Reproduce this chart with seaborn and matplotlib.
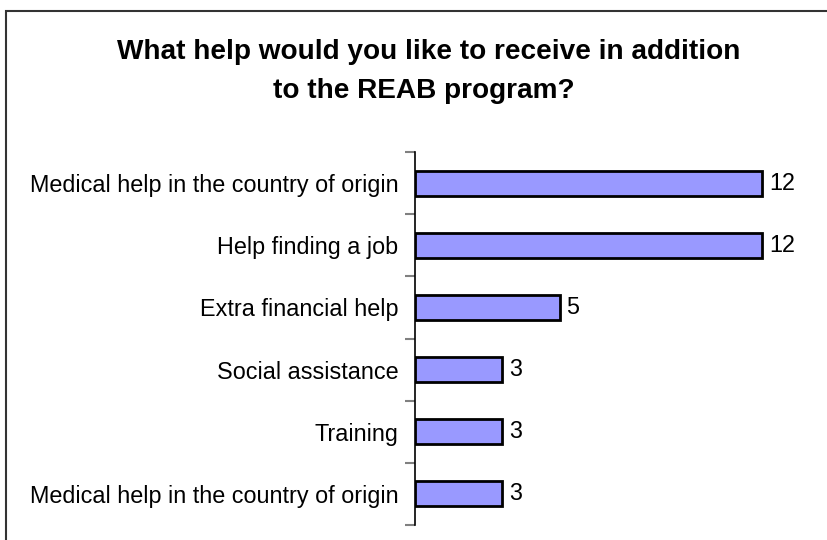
import matplotlib
matplotlib.use("Agg")
import matplotlib.pyplot as plt
import matplotlib.patches as mpatches
import seaborn as sns
import pandas as pd

categories = [
    "Medical help in the country of origin",
    "Help finding a job",
    "Extra financial help",
    "Social assistance",
    "Training",
    "Medical help in the country of origin",
]
counts = [12, 12, 5, 3, 3, 3]
title_lines = ["What help would you like to receive in addition",
               "to the REAB program?"]

sns.set_theme(style="white")
plt.rcParams["font.family"] = ["Liberation Sans", "DejaVu Sans"]

W, H = 828, 540
fig = plt.figure(figsize=(W / 100, H / 100), dpi=100)
fig.patch.set_facecolor("white")

ax = fig.add_axes([415 / W, 1 - 525 / H, (820 - 415) / W, (525 - 152) / H])
# one row key per bar, since two categories share the same label
df = pd.DataFrame({"row": [str(i) for i in range(len(categories))],
                   "count": counts})
sns.barplot(data=df, x="count", y="row", orient="h", color="#9999FF",
            saturation=1, width=0.4, edgecolor="black", linewidth=2, ax=ax)

ax.set_xlim(0, 14)
ax.set_ylim(len(categories) - 0.5, -0.5)
ax.set_xlabel("")
ax.set_ylabel("")
ax.set_xticks([])
ax.set_yticks(range(len(categories)), categories)
for s in ["top", "right", "bottom"]:
    ax.spines[s].set_visible(False)
ax.spines["left"].set_color("black")
ax.spines["left"].set_linewidth(1.2)

ax.tick_params(axis="y", which="major", length=0, pad=12, labelsize=16.8,
               labelcolor="black")
ax.set_yticks([i - 0.5 for i in range(len(categories) + 1)], minor=True)
ax.tick_params(axis="y", which="minor", length=7, width=1.5, color="#808080",
               left=True)

for c in ax.containers:
    ax.bar_label(c, labels=[str(v) for v in counts], padding=5, fontsize=16.8,
                 color="black")

# two-line bold title, each line centred on its own
fig.text(429 / W, 1 - 59 / H, title_lines[0], ha="center", va="baseline",
         fontsize=20.2, fontweight="bold", color="black")
fig.text(424 / W, 1 - 98 / H, title_lines[1], ha="center", va="baseline",
         fontsize=20.2, fontweight="bold", color="black")

border = mpatches.Rectangle((6 / W, -0.1), 1.2, 1 - 11 / H + 0.1,
                            transform=fig.transFigure, fill=False,
                            edgecolor="#333333", linewidth=1.5)
fig.add_artist(border)

fig.savefig("out.png", dpi=100)
